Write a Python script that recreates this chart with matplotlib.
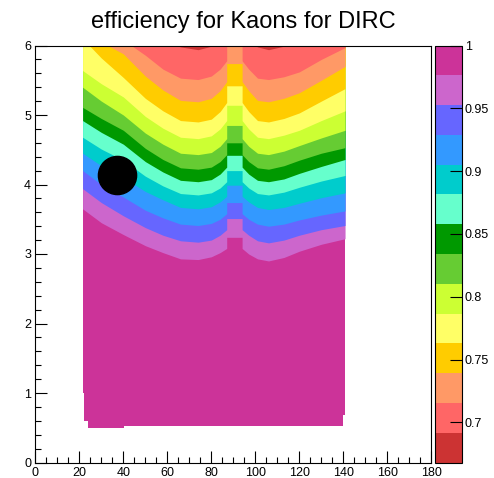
import numpy as np
import matplotlib
matplotlib.use("Agg")
import matplotlib.pyplot as plt
from matplotlib.colors import ListedColormap, BoundaryNorm
from matplotlib.cm import ScalarMappable

plt.rcParams['font.family'] = ['Liberation Sans', 'DejaVu Sans']

# polar angle (deg) where the efficiency contours are sampled;
# 87 and 94 appear twice: the edges of the central column
theta = [21.5, 30, 40, 50, 58, 66, 74, 80, 84, 87, 87, 94, 94, 97, 101, 106, 113, 120, 130, 140.8]

# momentum (GeV/c) of each efficiency contour, from low to high efficiency
bound_1 = [6.80, 6.60, 6.40, 6.20, 6.06, 5.98, 5.94, 5.99, 6.10, 6.25, 6.50, 6.50, 6.25, 6.05, 5.98, 5.94, 5.99, 6.05, 6.10, 6.15]
bound_2 = [6.50, 6.28, 6.08, 5.86, 5.66, 5.53, 5.51, 5.56, 5.66, 5.78, 6.05, 6.05, 5.78, 5.66, 5.53, 5.51, 5.55, 5.62, 5.80, 5.97]
bound_3 = [6.30, 6.05, 5.88, 5.56, 5.36, 5.21, 5.19, 5.24, 5.35, 5.48, 5.74, 5.74, 5.48, 5.35, 5.21, 5.19, 5.24, 5.32, 5.50, 5.70]
bound_4 = [6.10, 5.82, 5.54, 5.24, 5.06, 4.92, 4.90, 4.94, 5.05, 5.18, 5.42, 5.42, 5.18, 5.05, 4.92, 4.90, 4.95, 5.03, 5.20, 5.38]
bound_5 = [5.64, 5.45, 5.26, 4.98, 4.81, 4.68, 4.66, 4.70, 4.80, 4.92, 5.14, 5.14, 4.92, 4.80, 4.68, 4.66, 4.71, 4.78, 4.92, 5.06]
bound_6 = [5.40, 5.20, 5.00, 4.74, 4.58, 4.45, 4.43, 4.46, 4.55, 4.66, 4.85, 4.85, 4.66, 4.55, 4.45, 4.43, 4.48, 4.56, 4.67, 4.78]
bound_7 = [5.11, 4.95, 4.78, 4.52, 4.36, 4.24, 4.22, 4.25, 4.33, 4.43, 4.60, 4.60, 4.43, 4.33, 4.24, 4.22, 4.27, 4.35, 4.45, 4.53]
bound_8 = [4.92, 4.75, 4.58, 4.33, 4.18, 4.06, 4.04, 4.07, 4.15, 4.25, 4.42, 4.42, 4.25, 4.15, 4.06, 4.04, 4.08, 4.16, 4.26, 4.36]
bound_9 = [4.68, 4.51, 4.35, 4.12, 3.98, 3.87, 3.85, 3.88, 3.95, 4.04, 4.20, 4.20, 4.04, 3.95, 3.87, 3.85, 3.89, 3.96, 4.05, 4.13]
bound_10 = [4.45, 4.27, 4.10, 3.90, 3.78, 3.67, 3.65, 3.68, 3.75, 3.83, 3.99, 3.99, 3.83, 3.75, 3.67, 3.64, 3.67, 3.73, 3.81, 3.88]
bound_11 = [4.20, 4.00, 3.82, 3.63, 3.52, 3.43, 3.41, 3.44, 3.50, 3.58, 3.74, 3.74, 3.58, 3.50, 3.43, 3.40, 3.43, 3.49, 3.56, 3.62]
bound_12 = [3.94, 3.74, 3.55, 3.38, 3.27, 3.19, 3.17, 3.20, 3.27, 3.35, 3.51, 3.51, 3.35, 3.27, 3.19, 3.16, 3.20, 3.27, 3.35, 3.41]
bound_13 = [3.65, 3.45, 3.28, 3.12, 3.02, 2.93, 2.92, 2.96, 3.02, 3.08, 3.24, 3.24, 3.08, 3.00, 2.93, 2.90, 2.95, 3.04, 3.14, 3.22]

# lower edge of the filled region
low_edges = [21.5, 22.2, 24.0, 40.3, 139.9, 140.8]
low_p = [1.0, 0.6, 0.49, 0.52, 0.69]

# marker
dot_theta = 37.2
dot_p = 4.14

z_min, z_max = 0.668, 1.0
band_colors = ['#cc3333', '#ff6666', '#ff9966', '#ffcc00', '#ffff66', '#ccff33',
               '#66cc33', '#009900', '#66ffcc', '#00cccc', '#3399ff', '#6666ff',
               '#cc66cc', '#cc3399']
bar_ticks = [0.7, 0.75, 0.8, 0.85, 0.9, 0.95, 1.0]

bounds = [bound_1, bound_2, bound_3, bound_4, bound_5, bound_6, bound_7,
          bound_8, bound_9, bound_10, bound_11, bound_12, bound_13]

W, H = 494, 478
fig = plt.figure(figsize=(W / 100, H / 100), dpi=100)
ax = fig.add_axes([35.3 / W, 1 - 462.5 / H, 396 / W, 417 / H])
cax = fig.add_axes([435 / W, 1 - 462.5 / H, 27 / W, 417 / H])

# highest efficiency band underneath everything
ax.bar(low_edges[:-1], [6.0 - b for b in low_p], width=np.diff(low_edges),
       bottom=low_p, align='edge', color=band_colors[-1], linewidth=0)
# paint bands from the high-efficiency side up, each covering the rest above it
for k in range(12, -1, -1):
    ax.fill_between(theta, bounds[k], 7.0, color=band_colors[k], linewidth=0)

ax.plot(dot_theta, dot_p, 'o', color='black', ms=27.5)

ax.set_xlim(0, 180)
ax.set_ylim(0, 6)
ax.set_xticks(np.arange(0, 181, 20))
ax.set_xticks(np.arange(0, 181, 5), minor=True)
ax.set_yticks(np.arange(0, 7, 1))
ax.set_yticks(np.arange(0, 6.01, 0.2), minor=True)
ax.tick_params(which='both', direction='in', top=False, right=False,
               width=0.8, labelsize=9, pad=3)
ax.tick_params(which='major', length=8.6)
ax.tick_params(which='minor', length=4.3)
for s in ax.spines.values():
    s.set_linewidth(0.8)

cmap = ListedColormap(band_colors)
norm = BoundaryNorm(np.linspace(z_min, z_max, len(band_colors) + 1), cmap.N)
cb = fig.colorbar(ScalarMappable(norm=norm, cmap=cmap), cax=cax, ticks=bar_ticks)
cb.outline.set_linewidth(0.8)
cax.yaxis.set_ticks_position('right')
cax.tick_params(direction='in', length=8.6, width=0.8, labelsize=9, pad=2)
cax.set_yticklabels([f"{v:g}" for v in bar_ticks])
cax.minorticks_off()

fig.text(243 / W, 1 - 22 / H, "efficiency for Kaons for DIRC",
         ha='center', va='center', fontsize=17)

fig.savefig("out.png", dpi=100)
